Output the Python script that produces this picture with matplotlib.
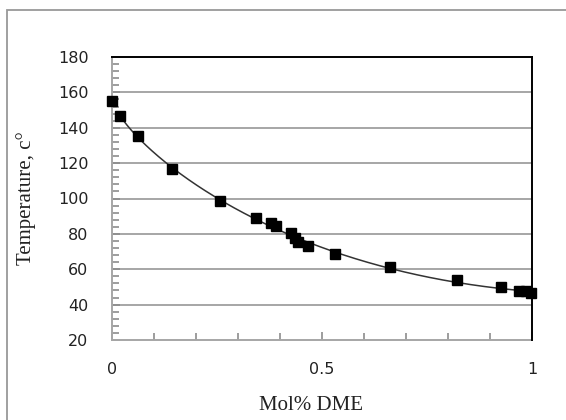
import numpy as np
import matplotlib
matplotlib.use("Agg")
import matplotlib.pyplot as plt
from matplotlib.patches import Rectangle
from matplotlib.ticker import MultipleLocator, FixedLocator

mol_dme = [0.0, 0.019, 0.062, 0.143, 0.256, 0.343, 0.379, 0.391, 0.427,
           0.436, 0.443, 0.467, 0.531, 0.663, 0.821, 0.927, 0.970, 0.985, 0.998]
temperature = [155.0, 146.5, 135.3, 116.8, 98.7, 89.2, 86.0, 84.5, 80.4,
               77.5, 75.3, 73.0, 68.6, 61.1, 53.8, 49.9, 47.7, 47.7, 46.5]
x_ticklabels = ["0", "0.5", "1"]
y_ticks = [20, 40, 60, 80, 100, 120, 140, 160, 180]

W, H = 566, 420
fig = plt.figure(figsize=(W / 100, H / 100), dpi=100)
ax = fig.add_axes([112 / W, 1 - 340 / H, (532 - 112) / W, (340 - 57) / H])

grid_c = "#a6a6a6"
for y in y_ticks[1:-1]:
    ax.axhline(y, color=grid_c, lw=1.4, zorder=1)

# smooth trend line fitted from data
xs = np.array(mol_dme)
ys = np.array(temperature)
coef = np.polyfit(np.sqrt(xs[1:]), ys[1:], 3)
xf = np.linspace(xs[1], xs[-1], 300)
ax.plot(xf, np.polyval(coef, np.sqrt(xf)), color="#333333", lw=1.1, zorder=2)
ax.plot(xs, ys, linestyle="none", marker="s", markersize=7.5, color="black",
        zorder=4, clip_on=False)

ax.set_xlim(0, 1)
ax.set_ylim(20, 180)
ax.xaxis.set_major_locator(FixedLocator([0, 0.5, 1]))
ax.set_xticklabels(x_ticklabels)
ax.xaxis.set_minor_locator(MultipleLocator(0.1))
ax.yaxis.set_major_locator(FixedLocator(y_ticks))
ax.yaxis.set_minor_locator(MultipleLocator(4))
ax.tick_params(axis="both", which="both", direction="in", color="#8c8c8c", width=1.2)
ax.tick_params(axis="both", which="major", length=6, labelsize=11.5, labelcolor="#222222")
ax.tick_params(axis="both", which="minor", length=5)
ax.tick_params(axis="y", which="major", pad=17)
ax.tick_params(axis="x", which="major", pad=16)
for lab in ax.get_xticklabels() + ax.get_yticklabels():
    lab.set_family("DejaVu Sans")

for s in ["left", "bottom"]:
    ax.spines[s].set_color(grid_c)
    ax.spines[s].set_linewidth(1.4)
for s in ["top", "right"]:
    ax.spines[s].set_color("black")
    ax.spines[s].set_linewidth(1.4)
    ax.spines[s].set_zorder(3)

ax.set_xlabel("Mol% DME", family="Liberation Serif", fontsize=15, color="#222222")
ax.xaxis.set_label_coords((311 - 112) / 420, -(405 - 340) / 283)
ax.xaxis.label.set_va("center")
ax.set_ylabel("Temperature, c°", family="Liberation Serif", fontsize=15, color="#222222")
ax.yaxis.set_label_coords(-(112 - 36) / 420, 0.5)

fig.patches.append(Rectangle((7 / W, -0.1), 1.2, 1.1 - 10 / H, transform=fig.transFigure,
                             fill=False, edgecolor="#999999", lw=1.3))

fig.savefig("out.png", dpi=100)
